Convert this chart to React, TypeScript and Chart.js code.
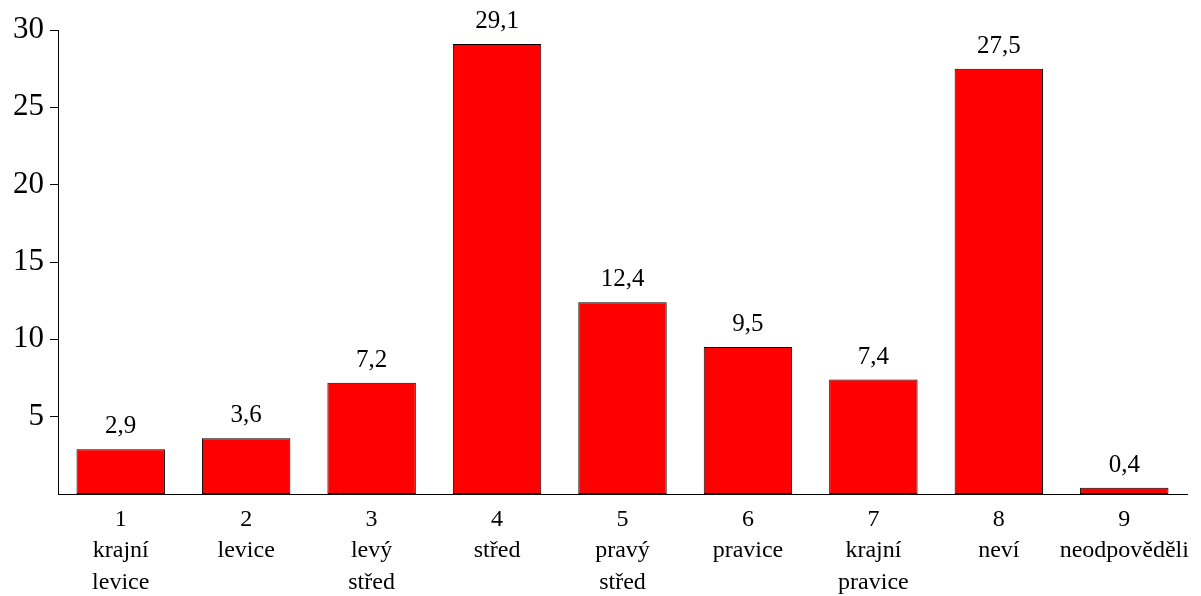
import React, { useEffect, useRef } from "react";
import { Chart, registerables } from "chart.js";

Chart.register(...registerables);

const categories: string[][] = [
  ["1", "krajní", "levice"],
  ["2", "levice"],
  ["3", "levý", "střed"],
  ["4", "střed"],
  ["5", "pravý", "střed"],
  ["6", "pravice"],
  ["7", "krajní", "pravice"],
  ["8", "neví"],
  ["9", "neodpověděli"],
];
const values: number[] = [2.9, 3.6, 7.2, 29.1, 12.4, 9.5, 7.4, 27.5, 0.4];
const yTicks: number[] = [5, 10, 15, 20, 25, 30];

const FONT = "'Liberation Serif', 'DejaVu Serif', serif";

const valueLabels = {
  id: "valueLabels",
  afterDatasetsDraw(chart: any) {
    const ctx = chart.ctx;
    const meta = chart.getDatasetMeta(0);
    ctx.save();
    ctx.fillStyle = "#000";
    ctx.font = `25px ${FONT}`;
    ctx.textAlign = "center";
    ctx.textBaseline = "alphabetic";
    meta.data.forEach((bar: any, i: number) => {
      const v = values[i];
      ctx.fillText(v.toFixed(1).replace(".", ","), bar.x, bar.y - 16);
    });
    ctx.restore();
  },
};

export default function App() {
  const ref = useRef<HTMLCanvasElement | null>(null);
  useEffect(() => {
    if (!ref.current) return;
    const chart = new Chart(ref.current, {
      type: "bar",
      data: {
        labels: categories,
        datasets: [
          {
            data: values,
            backgroundColor: "#ff0000",
            borderColor: "#000",
            borderWidth: 1,
            borderSkipped: false,
            categoryPercentage: 1,
            barPercentage: 0.705,
          },
        ],
      },
      options: {
        animation: false,
        responsive: false,
        maintainAspectRatio: false,
        layout: { padding: { top: 30, right: 14, left: 0, bottom: 0 } },
        plugins: { legend: { display: false }, tooltip: { enabled: false } },
        scales: {
          x: {
            grid: { display: false, drawTicks: false },
            border: { display: true, color: "#000", width: 1 },
            ticks: {
              color: "#000",
              font: { family: FONT, size: 24, lineHeight: 1.31 },
              padding: 10,
              maxRotation: 0,
              autoSkip: false,
            },
            afterFit: (scale: any) => {
              scale.height = 102;
            },
          },
          y: {
            min: 0,
            max: 30,
            afterBuildTicks: (scale: any) => {
              scale.ticks = yTicks.map((v) => ({ value: v }));
            },
            grid: {
              display: true,
              drawOnChartArea: false,
              drawTicks: true,
              tickLength: 8,
              color: "#000",
            },
            border: { display: true, color: "#000", width: 1 },
            ticks: {
              color: "#000",
              font: { family: FONT, size: 31 },
              padding: 6,
            },
            afterFit: (scale: any) => {
              scale.width = 58;
            },
          },
        },
      },
      plugins: [valueLabels],
    });
    return () => chart.destroy();
  }, []);
  return (
    <div style={{ position: "fixed", left: 0, top: 0, width: 1201, height: 596, background: "#fff" }}>
      <canvas ref={ref} width={1201} height={596} style={{ display: "block" }} />
    </div>
  );
}
